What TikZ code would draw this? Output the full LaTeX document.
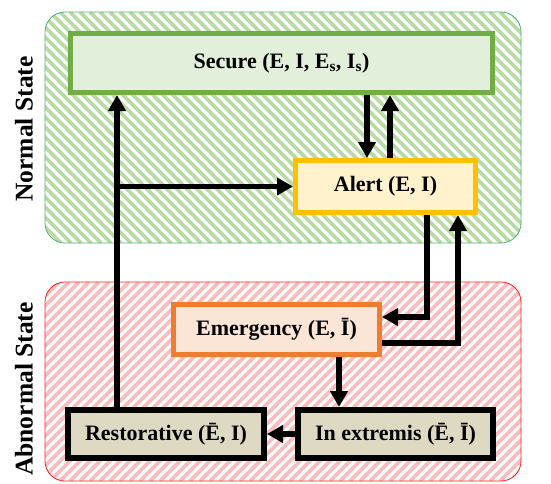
\documentclass[tikz,border=0pt]{standalone}
\usepackage{fontspec}
\setmainfont{Liberation Serif}
\usetikzlibrary{arrows.meta}

\definecolor{secBorder}{HTML}{70AD47}
\definecolor{secFill}{HTML}{E2EFDA}
\definecolor{alBorder}{HTML}{FFC000}
\definecolor{alFill}{HTML}{FFF2CC}
\definecolor{emBorder}{HTML}{ED7D31}
\definecolor{emFill}{HTML}{FBE5D6}
\definecolor{resFill}{HTML}{DDD9C3}
\definecolor{greenHatch}{HTML}{B8DBA6}
\definecolor{greenEdge}{HTML}{4DB36B}
\definecolor{redHatch}{HTML}{F9BDBD}
\definecolor{redEdge}{HTML}{FF2020}

\tikzset{
  statebox/.style={draw, line width=5pt, inner sep=0pt, font=\fontsize{22}{25}\selectfont\bfseries},
  arr/.style={line width=5.2pt, -{Triangle[length=16pt,width=17pt]}},
  zonelabel/.style={rotate=90, font=\fontsize{25.5}{28}\selectfont\bfseries},
}
\newcommand{\subs}[1]{\textsubscript{#1}}

\begin{document}
\begin{tikzpicture}[x=1pt,y=-1pt]
\useasboundingbox (0,0) rectangle (551,483);

% normal-state zone: hatched rounded panel
\begin{scope}
  \clip[rounded corners=20pt] (45,12) rectangle (521,243);
  \fill[white] (45,12) rectangle (521,243);
  \foreach \x in {-190,-180,...,530}
    \draw[greenHatch, line width=3.6pt] (\x,12) -- (\x+231,243);
\end{scope}
\draw[greenEdge, line width=0.8pt, rounded corners=20pt] (45,12) rectangle (521,243);

% abnormal-state zone
\begin{scope}
  \clip[rounded corners=20pt] (45,282) rectangle (521,481);
  \fill[white] (45,282) rectangle (521,481);
  \foreach \x in {-160,-150,...,530}
    \draw[redHatch, line width=3.6pt] (\x,481) -- (\x+199,282);
\end{scope}
\draw[redEdge, line width=0.8pt, rounded corners=20pt] (45,282) rectangle (521,481);

% zone titles
\node[zonelabel] (normal) at (24,129) {Normal State};
\node[zonelabel] (abnormal) at (24,389) {Abnormal State};

% states
\node[statebox, draw=secBorder, fill=secFill, minimum width=422pt, minimum height=59pt]
  (sec) at (281.5,63) {Secure (E, I, E\subs{s}, I\subs{s})};
\node[statebox, draw=alBorder, fill=alFill, minimum width=180pt, minimum height=52pt]
  (al) at (385.5,186.5) {Alert (E, I)};
\node[statebox, draw=emBorder, fill=emFill, minimum width=206pt, minimum height=50pt]
  (em) at (276.5,329.5) {Emergency (E, Ī)};
\node[statebox, draw=black, line width=6pt, fill=resFill, minimum width=196pt, minimum height=48pt]
  (re) at (166,434) {Restorative (Ē, I)};
\node[statebox, draw=black, line width=6pt, fill=resFill, minimum width=195pt, minimum height=48pt]
  (ex) at (395.5,434) {In extremis (Ē, Ī)};

% routing guides
\coordinate (trunk) at (117,186.5);
\coordinate (down1) at (367,0);
\coordinate (up1) at (390,0);
\coordinate (c1) at (427,317);
\coordinate (c2) at (458,343);
\coordinate (c3) at (339,0);

% transitions
\draw[arr] (re.north -| trunk) -- (sec.south -| trunk);
\draw[arr] (trunk) -- (al.west);
\draw[arr] (sec.south -| down1) -- (al.north -| down1);
\draw[arr] (al.north -| up1) -- (sec.south -| up1);
\draw[arr] (al.south -| c1) |- (em.east |- c1);
\draw[arr] (em.east |- c2) -| (al.south -| c2);
\draw[arr] (em.south -| c3) -- (ex.north -| c3);
\draw[arr] (ex.west) -- (re.east);
\end{tikzpicture}
\end{document}
